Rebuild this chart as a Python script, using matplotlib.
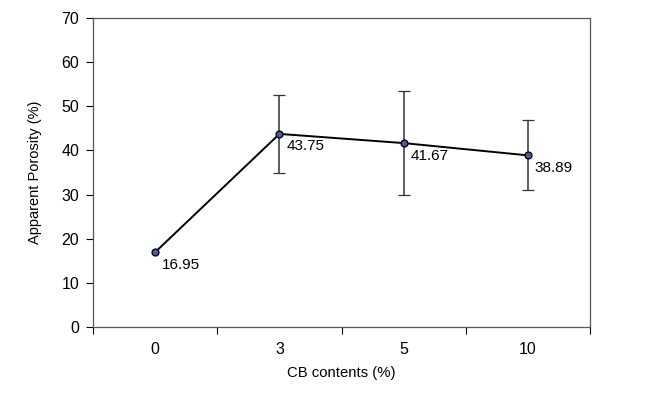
import numpy as np
import matplotlib
matplotlib.use("Agg")
import matplotlib.pyplot as plt

plt.rcParams['font.family'] = ['Liberation Sans', 'DejaVu Sans']

# Datos
categorias = ["0", "3", "5", "10"]
porosidad = [16.95, 43.75, 41.67, 38.89]
errores = [0.0, 8.9, 11.8, 7.9]
etiquetas = ["16.95", "43.75", "41.67", "38.89"]

fig = plt.figure(figsize=(6.6, 3.93), dpi=100)
ax = fig.add_axes([0.141, 0.168, 0.753, 0.786])

x = np.arange(len(categorias))
ax.errorbar(x, porosidad, yerr=[e if e > 0 else np.nan for e in errores],
            color='black', lw=1.4, ecolor='#333333', elinewidth=1.1,
            capsize=4, capthick=1.1, marker='o', markersize=5,
            markerfacecolor='#4a5a9a', markeredgecolor='black',
            markeredgewidth=0.9, zorder=3)

for xi, yi, t in zip(x, porosidad, etiquetas):
    ax.annotate(t, (xi, yi), xytext=(5, -9), textcoords='offset points',
                fontsize=11, ha='left', va='center')

ax.set_xlim(-0.5, 3.5)
ax.set_ylim(0, 70)
ax.set_yticks(range(0, 71, 10))

# ticks entre categorías
ax.set_xticks(np.arange(-0.5, 4, 1.0))
ax.set_xticklabels([])
ax.set_xticks(x, minor=True)
ax.set_xticklabels(categorias, minor=True)
ax.tick_params(which='both', labelsize=11.5)
ax.tick_params(axis='x', which='minor', length=0, pad=11)
ax.tick_params(axis='x', which='major', length=5, direction='out')
ax.tick_params(axis='y', length=5, direction='out', pad=5)

for s in ax.spines.values():
    s.set_color('#555555')
    s.set_linewidth(0.9)

ax.set_xlabel("CB contents (%)", fontsize=10.7, labelpad=6)
ax.set_ylabel("Apparent Porosity (%)", fontsize=10.5, labelpad=14)

fig.savefig("out.png", dpi=100)
